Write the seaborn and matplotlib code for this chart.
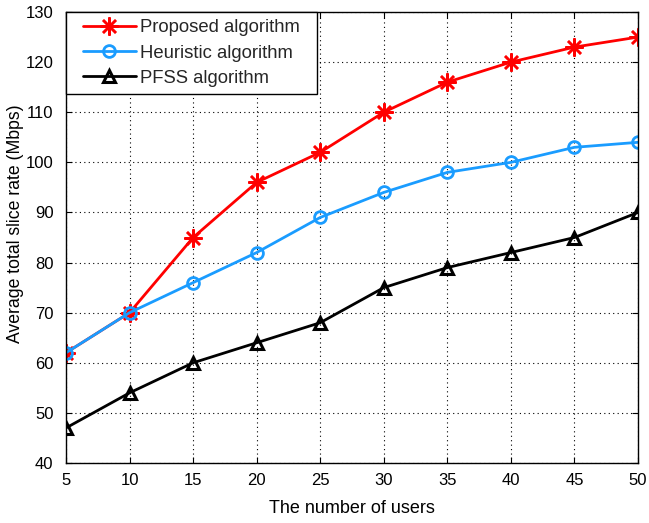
import numpy as np
import pandas as pd
import matplotlib
matplotlib.use("Agg")
import matplotlib.pyplot as plt
from matplotlib.legend_handler import HandlerLine2D
import seaborn as sns

users = [5, 10, 15, 20, 25, 30, 35, 40, 45, 50]
proposed = [62, 70, 85, 96, 102, 110, 116, 120, 123, 125]
heuristic = [62, 70, 76, 82, 89, 94, 98, 100, 103, 104]
pfss = [47, 54, 60, 64, 68, 75, 79, 82, 85, 90]

series_names = ["Proposed algorithm", "Heuristic algorithm", "PFSS algorithm"]
x_ticks = [5, 10, 15, 20, 25, 30, 35, 40, 45, 50]
y_ticks = [40, 50, 60, 70, 80, 90, 100, 110, 120, 130]

df = pd.DataFrame({
    "users": users * 3,
    "rate": proposed + heuristic + pfss,
    "algorithm": [series_names[0]] * len(users)
    + [series_names[1]] * len(users)
    + [series_names[2]] * len(users),
})

sns.set_theme(style="white")
plt.rcParams["font.family"] = ["Liberation Sans", "DejaVu Sans"]

fig = plt.figure(figsize=(6.49, 5.23), dpi=100)
ax = fig.add_axes([0.1017, 0.1147, 0.8813, 0.8623])

palette = {series_names[0]: "#ff0000", series_names[1]: "#1a9cff", series_names[2]: "#000000"}
# asterisk, open circle, open triangle
markers = {series_names[0]: (8, 2, 0), series_names[1]: "o", series_names[2]: "^"}
msizes = {series_names[0]: 13, series_names[1]: 8.5, series_names[2]: 8.5}
mew = {series_names[0]: 1.8, series_names[1]: 2.0, series_names[2]: 2.2}

for name in series_names:
    sub = df[df["algorithm"] == name]
    color = palette[name]
    sns.lineplot(
        data=sub, x="users", y="rate", ax=ax, color=color, linewidth=2,
        marker=markers[name], markersize=msizes[name],
        markerfacecolor="none", markeredgecolor=color, markeredgewidth=mew[name],
        label=name,
    )

ax.set_xlim(5, 50)
ax.set_ylim(40, 130)
ax.set_xticks(x_ticks)
ax.set_yticks(y_ticks)
ax.tick_params(direction="in", length=4, width=0.8, labelsize=12, colors="black",
               top=True, right=True, bottom=True, left=True)
ax.tick_params(axis="y", pad=9)
ax.tick_params(axis="x", pad=7)
ax.grid(True, linestyle=(0, (1, 3)), color="black", linewidth=0.8)
for s in ax.spines.values():
    s.set_color("black")
    s.set_linewidth(1.0)

ax.set_xlabel("The number of users", fontsize=13, color="black", labelpad=9)
ax.set_ylabel("Average total slice rate (Mbps)", fontsize=12.7, color="black")
ax.yaxis.set_label_coords(-0.074, 0.53)

# wide legend box with indented handles
handles, labels = ax.get_legend_handles_labels()
leg = ax.legend(handles, labels, loc="upper left", bbox_to_anchor=(0, 1, 0.439, 0),
                mode="expand", fontsize=13.3, frameon=True, fancybox=False,
                edgecolor="black", framealpha=1, borderaxespad=0, handlelength=3.4,
                handletextpad=0.2, labelspacing=0.44, borderpad=0.4,
                handler_map={h: HandlerLine2D(xpad=0.5) for h in handles})
leg.get_frame().set_linewidth(1.0)

fig.savefig("out.png", dpi=100)
